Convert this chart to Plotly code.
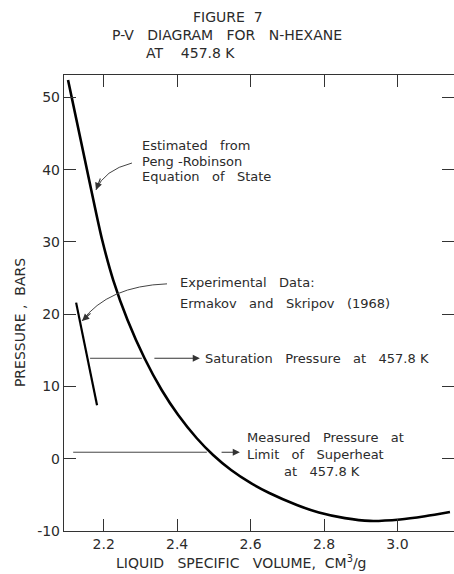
import plotly.graph_objects as go

# ---- data ----
pr_volume = [2.103, 2.126, 2.149, 2.172, 2.196, 2.226, 2.265, 2.311, 2.358, 2.403, 2.453,
             2.498, 2.547, 2.600, 2.651, 2.726, 2.786, 2.857, 2.925, 3.007, 3.075, 3.143]
pr_pressure = [52.41, 46.87, 41.34, 35.80, 30.27, 24.73, 19.20, 13.94, 9.51, 6.05, 2.87,
               0.52, -1.56, -3.35, -4.74, -6.40, -7.45, -8.22, -8.60, -8.40, -7.95, -7.37]

exp_volume = [2.125, 2.182]
exp_pressure = [21.6, 7.4]

saturation_pressure = 13.9      # bar, at 457.8 K
superheat_limit_pressure = 0.9  # bar, measured

x_ticks = [2.2, 2.4, 2.6, 2.8, 3.0]
x_tick_labels = ["2.2", "2.4", "2.6", "2.8", "3.0"]
y_ticks = [-10, 0, 10, 20, 30, 40, 50]
y_tick_labels = ["-10", "0", "10", "20", "30", "40", "50"]

FONT = "DejaVu Sans"
TXT = "#2b2b2b"
NB = "\u00a0"

fig = go.Figure()
fig.add_trace(go.Scatter(x=pr_volume, y=pr_pressure, mode="lines",
                         line=dict(color="black", width=2.6, shape="spline", smoothing=0.8),
                         hoverinfo="skip", showlegend=False))
fig.add_trace(go.Scatter(x=exp_volume, y=exp_pressure, mode="lines",
                         line=dict(color="black", width=2.2),
                         hoverinfo="skip", showlegend=False))

ann = []
def text(x, y, s, xanchor="left", yanchor="middle", xref="x", yref="y", size=13, angle=0):
    ann.append(dict(x=x, y=y, xref=xref, yref=yref, text=s, showarrow=False,
                    xanchor=xanchor, yanchor=yanchor, textangle=angle,
                    font=dict(family=FONT, size=size, color=TXT)))

# titles
text(0.4205, 1.127, "FIGURE" + NB*2 + "7", xanchor="center", xref="paper", yref="paper", size=14)
text(0.418, 1.0877, "P-V" + NB*3 + "DIAGRAM" + NB*3 + "FOR" + NB*3 + "N-HEXANE", xanchor="center", xref="paper", yref="paper", size=14)
text(0.3256, 1.048, "AT" + NB*4 + "457.8" + NB + "K", xanchor="center", xref="paper", yref="paper", size=14)
# axis titles
text(-0.1128, 0.456, "PRESSURE" + NB + "," + NB*2 + "BARS", xanchor="center", xref="paper", yref="paper", angle=-90, size=14)
text(0.456, -0.0921, "LIQUID" + NB*3 + "SPECIFIC" + NB*3 + "VOLUME," + NB*2 + "CM<sup>3</sup>/g",
     xanchor="center", yanchor="bottom", xref="paper", yref="paper", size=14)

# labels
text(2.299, 43.28, "Estimated" + NB*3 + "from")
text(2.299, 41.20, "Peng" + NB + "-" + "Robinson")
text(2.299, 38.99, "Equation" + NB*3 + "of" + NB*3 + "State")
text(2.402, 24.32, "Experimental" + NB*3 + "Data:")
text(2.402, 21.55, "Ermakov" + NB*3 + "and" + NB*3 + "Skripov" + NB*3 + "(1968)", )
text(2.471, saturation_pressure, "Saturation" + NB*3 + "Pressure" + NB*3 + "at" + NB*3 + "457.8" + NB + "K")
text(2.585, 2.99, "Measured" + NB*3 + "Pressure" + NB*3 + "at")
text(2.585, 0.52, "Limit" + NB*3 + "of" + NB*3 + "Superheat")
text(2.795, -1.83, "at" + NB*3 + "457.8" + NB + "K", xanchor="center")

# straight arrows
def arrow(x0, y0, x1, y1):
    ann.append(dict(x=x1, y=y1, ax=x0, ay=y0, xref="x", yref="y", axref="x", ayref="y",
                    text="", showarrow=True, arrowhead=2, arrowsize=1.3, arrowwidth=1.1,
                    arrowcolor="#333", standoff=0, startstandoff=0))
arrow(2.334, saturation_pressure, 2.462, saturation_pressure)
arrow(2.517, superheat_limit_pressure, 2.571, superheat_limit_pressure)

# arrowheads for curved leaders (pixel offsets)
def head(x, y, ax, ay):
    ann.append(dict(x=x, y=y, ax=ax, ay=ay, xref="x", yref="y",
                    text="", showarrow=True, arrowhead=2, arrowsize=1.3, arrowwidth=1.1,
                    arrowcolor="#333", standoff=0, startstandoff=0))
head(2.179, 37.19, 5, -13)
head(2.141, 19.06, 10, -9)

shapes = [
    dict(type="line", xref="x", yref="y", x0=2.163, x1=2.304, y0=saturation_pressure, y1=saturation_pressure,
         line=dict(color="#444", width=1)),
    dict(type="line", xref="x", yref="y", x0=2.117, x1=2.481, y0=superheat_limit_pressure, y1=superheat_limit_pressure,
         line=dict(color="#444", width=1)),
    dict(type="path", xref="x", yref="y", path="M 2.277 40.92 Q 2.201 39.95 2.179 37.19",
         line=dict(color="#444", width=1)),
    dict(type="path", xref="x", yref="y", path="M 2.3725 24.20 Q 2.212 23.9 2.141 19.06",
         line=dict(color="#444", width=1)),
]

axis_common = dict(showgrid=False, zeroline=False, showline=True, linecolor="#333", linewidth=1.4,
                   ticks="inside", ticklen=12, tickwidth=1.1, tickcolor="#333", mirror="ticks",
                   tickfont=dict(family=FONT, size=14, color=TXT))

fig.update_layout(
    width=454, height=574,
    margin=dict(l=64, r=0, t=75, b=43),
    paper_bgcolor="white", plot_bgcolor="white",
    xaxis=dict(range=[2.092, 3.154], tickvals=x_ticks, ticktext=x_tick_labels, **axis_common),
    yaxis=dict(range=[-10, 53.1], tickvals=y_ticks, ticktext=y_tick_labels, **axis_common),
    annotations=ann, shapes=shapes, showlegend=False,
)

fig.write_html("out.html")
